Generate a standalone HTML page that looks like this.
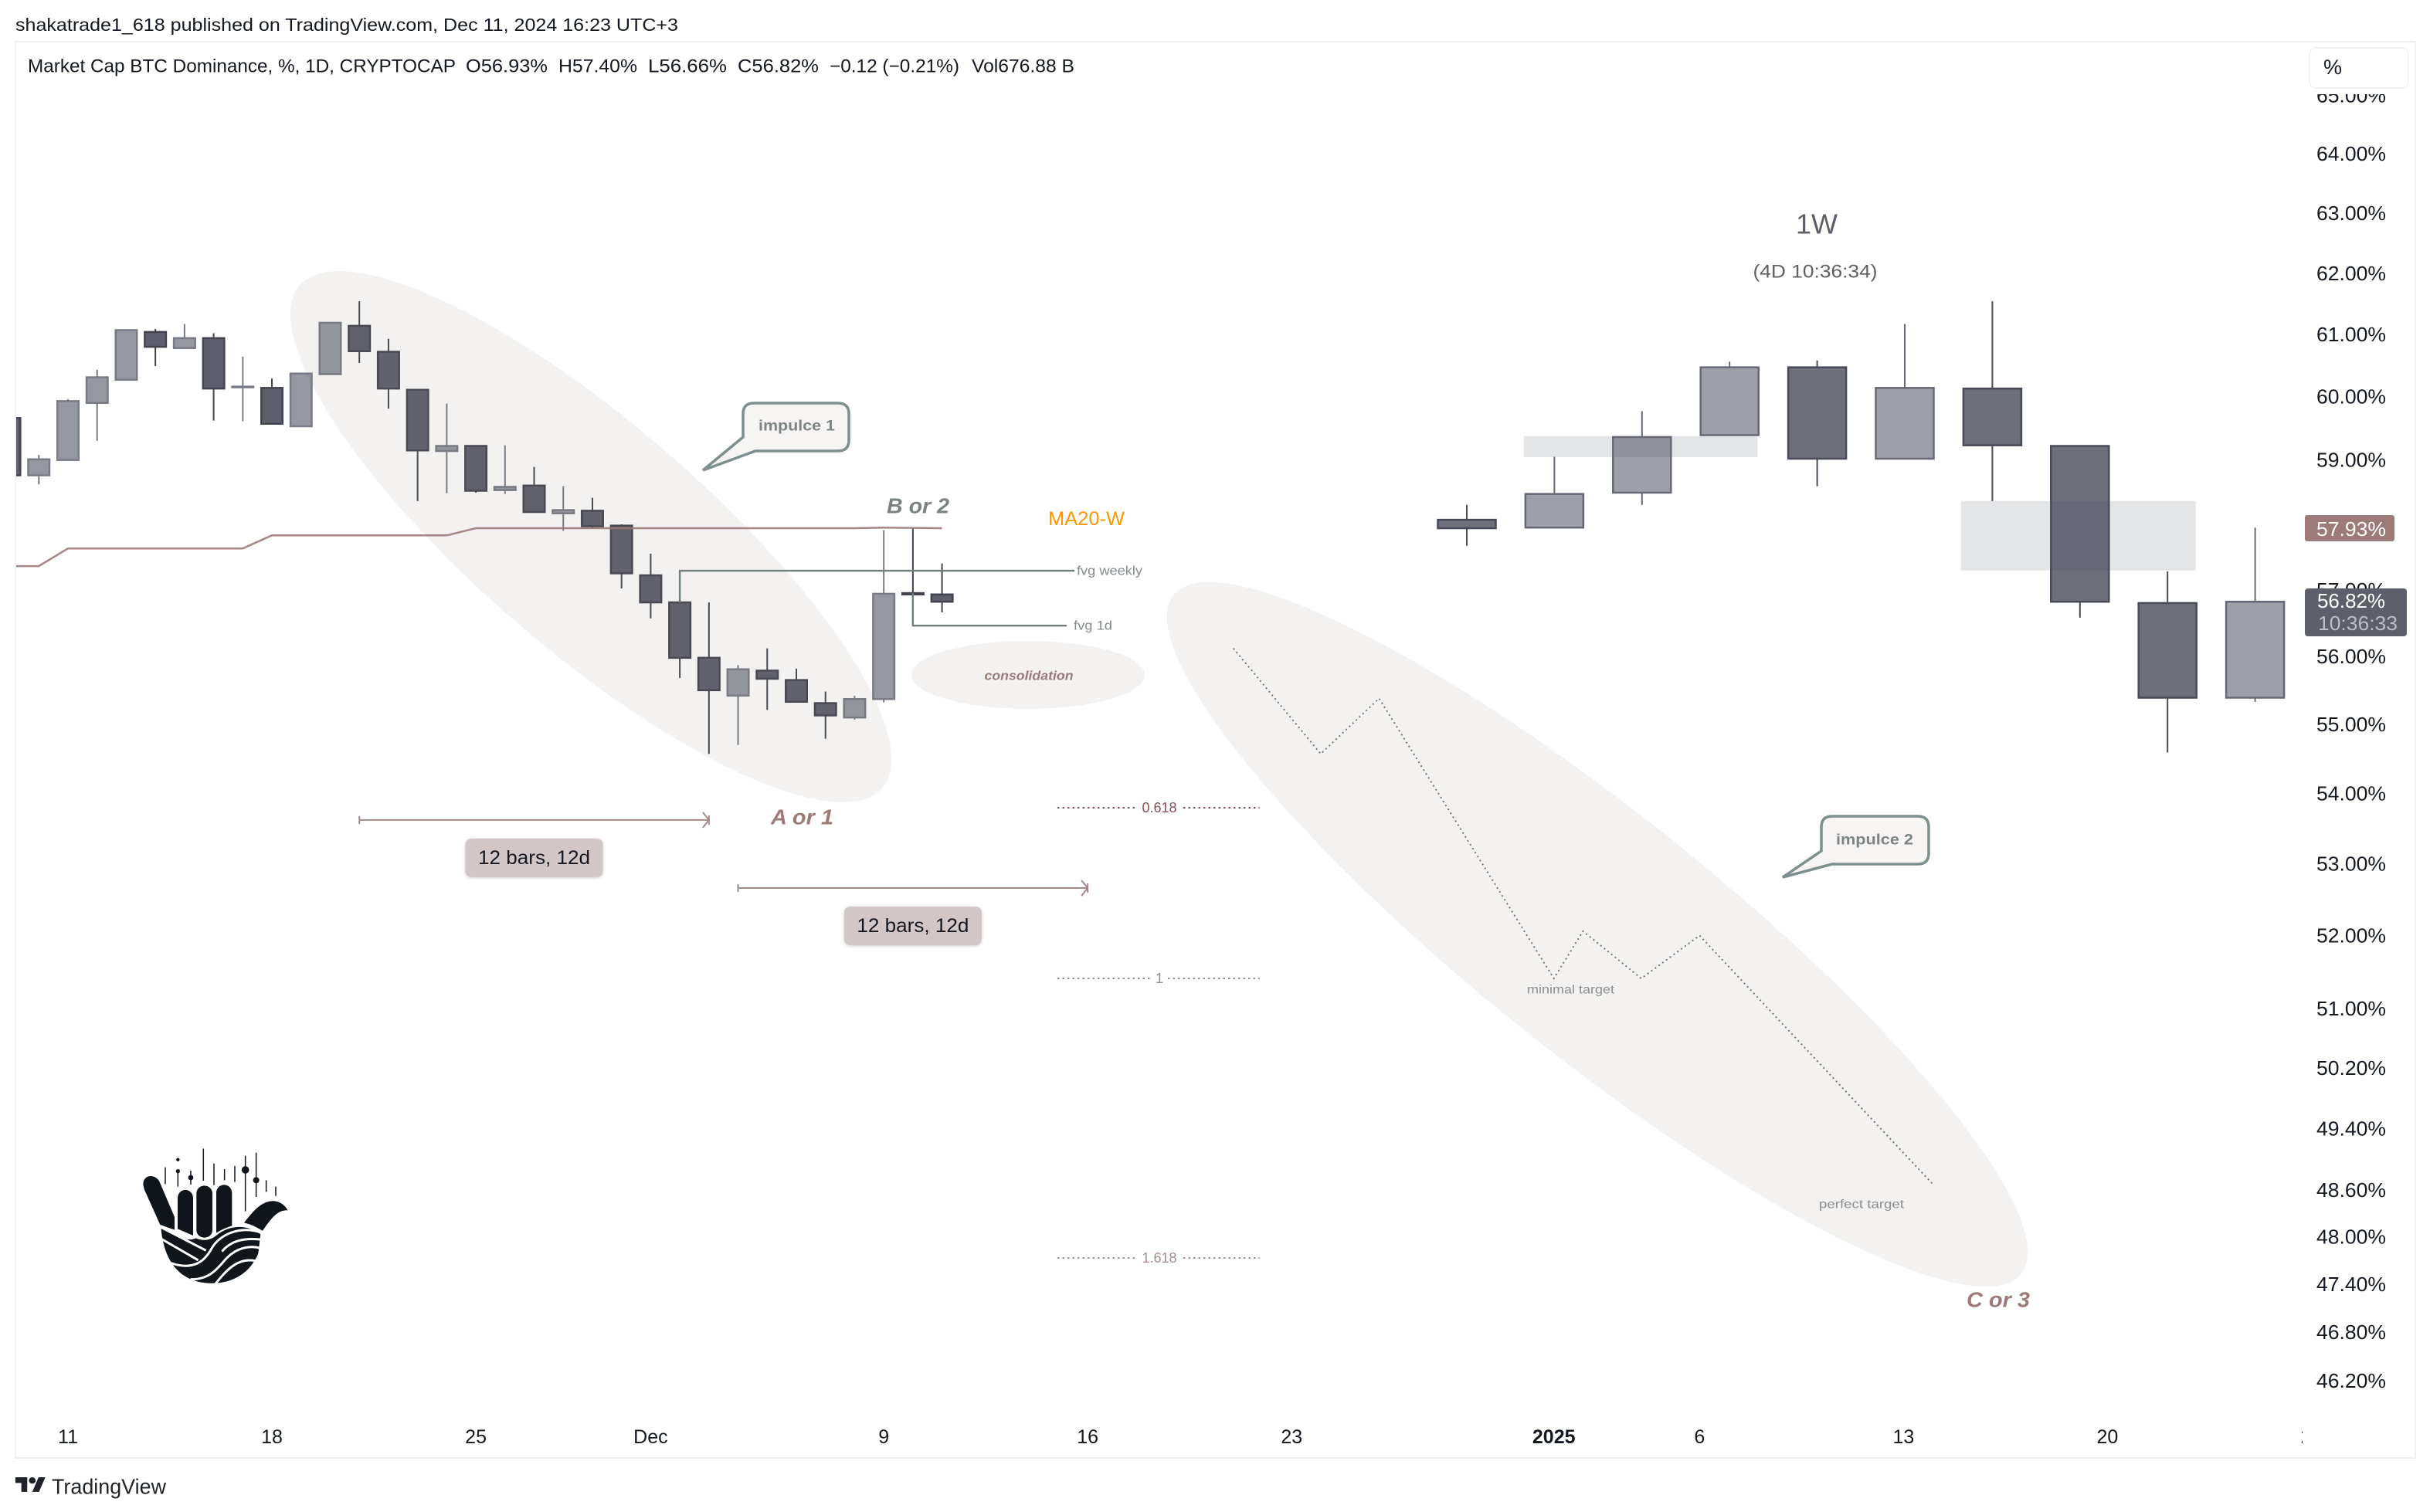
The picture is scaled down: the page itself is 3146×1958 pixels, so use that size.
<!DOCTYPE html>
<html lang="en">
<head>
<meta charset="utf-8">
<title>Market Cap BTC Dominance chart</title>
<style>
html,body{margin:0;padding:0;background:#fff;}
svg{display:block;font-family:"Liberation Sans",Arial,sans-serif;}
text{dominant-baseline:central;}
</style>
</head>
<body>
<svg id="chart" xmlns="http://www.w3.org/2000/svg" width="3146" height="1958" viewBox="0 0 3146 1958">
<defs>
<clipPath id="pane-clip"><rect x="21" y="55" width="2963" height="1832"/></clipPath>
<clipPath id="xaxis-clip"><rect x="21" y="1830" width="2960" height="57"/></clipPath>
</defs>
<rect x="0" y="0" width="3146" height="1958" fill="#ffffff"/>
<text x="20" y="32" font-size="23" fill="#131722" textLength="858" lengthAdjust="spacingAndGlyphs">shakatrade1_618 published on TradingView.com, Dec 11, 2024 16:23 UTC+3</text>
<rect x="20" y="54" width="3107" height="1834" fill="none" stroke="#eef0f6" stroke-width="2"/>

<g id="zones" clip-path="url(#pane-clip)"></g>
<g id="daily" clip-path="url(#pane-clip)"></g>
<g id="ma" clip-path="url(#pane-clip)"></g>
<g id="weekly"></g>

<ellipse cx="765" cy="695" rx="498" ry="147" transform="rotate(40.8 765 695)" fill="rgb(135,125,115)" fill-opacity="0.1"/>
<ellipse cx="2068" cy="1210" rx="703" ry="156" transform="rotate(38.7 2068 1210)" fill="rgb(135,125,115)" fill-opacity="0.1"/>
<ellipse cx="1331" cy="874" rx="151" ry="44" fill="#f3f2f1"/>
<text x="1332" y="875" font-size="17" font-weight="700" font-style="italic" fill="#9b7a78" text-anchor="middle" textLength="115" lengthAdjust="spacingAndGlyphs">consolidation</text>

<g id="overlay"></g>

<path d="M976 522H1085Q1099 522 1099 536V570Q1099 584 1085 584H978L910 609L962 566V536Q962 522 976 522Z" fill="#f6f5f3" stroke="#7f8f90" stroke-width="3.5"/>
<text x="982" y="552" font-size="19" font-weight="700" fill="#7c8484" textLength="99" lengthAdjust="spacingAndGlyphs">impulce 1</text>
<path d="M2372 1057H2483Q2497 1057 2497 1071V1105Q2497 1119 2483 1119H2372L2308 1136L2358 1102V1071Q2358 1057 2372 1057Z" fill="#f6f5f3" stroke="#7f8f90" stroke-width="3.5"/>
<text x="2377" y="1088" font-size="19" font-weight="700" fill="#7c8484" textLength="100" lengthAdjust="spacingAndGlyphs">impulce 2</text>

<text x="1148" y="655" font-size="28" font-weight="700" font-style="italic" fill="#79837f" textLength="81" lengthAdjust="spacingAndGlyphs">B or 2</text>
<text x="998" y="1058" font-size="28" font-weight="700" font-style="italic" fill="#9b7a78" textLength="81" lengthAdjust="spacingAndGlyphs">A or 1</text>
<text x="2546" y="1683" font-size="28" font-weight="700" font-style="italic" fill="#9b7a78" textLength="82" lengthAdjust="spacingAndGlyphs">C or 3</text>
<text x="1357" y="672" font-size="25" fill="#ff9800" textLength="99" lengthAdjust="spacingAndGlyphs">MA20-W</text>
<text x="1394" y="739" font-size="17" fill="#858a8c" textLength="85" lengthAdjust="spacingAndGlyphs">fvg weekly</text>
<text x="1390" y="810" font-size="17" fill="#858a8c" textLength="50" lengthAdjust="spacingAndGlyphs">fvg 1d</text>
<text x="1977" y="1282" font-size="16" fill="#8b8e8d" textLength="113" lengthAdjust="spacingAndGlyphs">minimal target</text>
<text x="2355" y="1560" font-size="16" fill="#8b8e8d" textLength="110" lengthAdjust="spacingAndGlyphs">perfect target</text>
<text x="2352" y="290" font-size="36" fill="#5d606b" text-anchor="middle" textLength="54" lengthAdjust="spacingAndGlyphs">1W</text>
<text x="2350" y="352" font-size="24" fill="#5d606b" text-anchor="middle" textLength="161" lengthAdjust="spacingAndGlyphs">(4D 10:36:34)</text>

<g font-size="24" fill="#131722">
<text x="36" y="86" textLength="554" lengthAdjust="spacingAndGlyphs">Market Cap BTC Dominance, %, 1D, CRYPTOCAP</text>
<text x="603" y="86" textLength="106" lengthAdjust="spacingAndGlyphs">O56.93%</text>
<text x="723" y="86" textLength="102" lengthAdjust="spacingAndGlyphs">H57.40%</text>
<text x="839" y="86" textLength="102" lengthAdjust="spacingAndGlyphs">L56.66%</text>
<text x="955" y="86" textLength="105" lengthAdjust="spacingAndGlyphs">C56.82%</text>
<text x="1074" y="86" textLength="168" lengthAdjust="spacingAndGlyphs">−0.12 (−0.21%)</text>
<text x="1258" y="86" textLength="133" lengthAdjust="spacingAndGlyphs">Vol676.88 B</text>
</g>

<g id="yaxis"></g>
<g id="xaxis" clip-path="url(#xaxis-clip)"></g>

<rect x="2985" y="56" width="140" height="66" fill="#ffffff"/>
<rect x="2990" y="62" width="128" height="52" rx="8" fill="#ffffff" stroke="#eceef4" stroke-width="1.5"/>
<text x="3020" y="87" font-size="27" fill="#131722" text-anchor="middle">%</text>

<rect x="2984" y="667" width="116" height="34" rx="3" fill="#9b7a78"/>
<text x="2999" y="685" font-size="26" fill="#ffffff" textLength="90" lengthAdjust="spacingAndGlyphs">57.93%</text>
<rect x="2984" y="762" width="132" height="62" rx="4" fill="#5d606b"/>
<text x="3000" y="778" font-size="26" fill="#ffffff" textLength="88" lengthAdjust="spacingAndGlyphs">56.82%</text>
<text x="3001" y="807" font-size="26" fill="#bcbec3" textLength="103" lengthAdjust="spacingAndGlyphs">10:36:33</text>

<g transform="translate(150 1460) scale(0.3333)">
<g stroke="#10151c" stroke-width="4.5" fill="none">
<path d="M192 155V220M241 175V230M291 168V222M340 82V207M381 140V224M422 162V205M462 150V212M503 110V326M545 98V270M584 205V250M621 230V266"/>
</g>
<g fill="#10151c">
<circle cx="241" cy="125" r="6.5"/><circle cx="241" cy="170" r="8"/><circle cx="291" cy="195" r="10"/><circle cx="503" cy="165" r="14.5"/><circle cx="545" cy="205" r="12"/>
</g>
<g fill="#10151c">
<path d="M106 222C106 180 155 180 170 212L228 348V398L172 378L110 240Z"/>
<path d="M240 276C240 232 300 232 300 276V420L240 394Z"/>
<path d="M313 258C313 216 375 216 375 258V398C375 438 313 438 313 398Z"/>
<path d="M390 256C390 212 451 212 451 256V382C425 390 405 400 390 410Z"/>
<path d="M498 370C530 330 560 290 605 286C635 285 655 300 668 322C630 320 605 350 570 402C545 385 520 375 498 370Z"/>
<path d="M175 388L240 420C262 432 285 442 310 430C335 442 365 440 390 420C440 378 510 375 562 415L553 490C515 580 430 615 340 603C240 590 185 510 175 388Z"/>
</g>
<g fill="none" stroke="#ffffff" stroke-width="9">
<path d="M168 384L350 478"/>
<path d="M175 432L320 516"/>
<path d="M205 524C300 560 345 520 372 470C400 420 480 375 575 412"/>
<path d="M290 590C370 592 400 540 432 506C470 468 520 456 565 470"/>
<path d="M385 610C425 560 470 505 540 518"/>
<path d="M412 482C450 438 500 428 570 436"/>
</g>
</g>

<g transform="translate(20 1913) scale(1.09 1.05)" fill="#1f2329">
<path d="M14 18H7V7H0V0H14ZM28 18H20L27.500 0H35.500Z"/>
<circle cx="20" cy="4" r="4"/>
</g>
<text x="67" y="1925" font-size="28" fill="#1f2329" textLength="148" lengthAdjust="spacingAndGlyphs">TradingView</text>
</svg>

<script>
// ---- price axis ticks ----
const yTickValues = [65,64,63,62,61,60,59,58,57,56,55,54,53,52,51,50.2,49.4,48.6,48,47.4,46.8,46.2];
const yTickLabels = ["65.00%","64.00%","63.00%","62.00%","61.00%","60.00%","59.00%","58.00%","57.00%","56.00%","55.00%","54.00%","53.00%","52.00%","51.00%","50.20%","49.40%","48.60%","48.00%","47.40%","46.80%","46.20%"];
// ---- time axis ticks (days since Nov 11) ----
const xTickDays = [0,7,14,20,28,35,42,51,56,63,70,77];
const xTickLabels = ["11","18","25","Dec","9","16","23","2025","6","13","20","27"];
// ---- daily candles ----
const dailyDays = [-2,-1,0,1,2,3,4,5,6,7,8,9,10,11,12,13,14,15,16,17,18,19,20,21,22,23,24,25,26,27,28,29,30];
const dailyOpen = [59.66,58.76,59.00,59.90,60.27,61.04,60.78,60.94,60.15,60.14,59.53,60.36,61.14,60.72,60.11,59.14,59.22,58.53,58.60,58.17,58.21,57.98,57.22,56.81,55.98,55.42,55.79,55.65,55.31,55.10,55.37,56.95,56.93];
const dailyHigh = [59.66,59.08,59.96,60.43,61.07,61.09,61.17,61.02,60.64,60.29,60.37,61.19,61.54,60.93,60.11,59.89,59.22,59.23,58.89,58.59,58.41,58.00,57.55,56.81,56.81,55.87,56.12,55.82,55.48,55.42,57.91,57.95,57.40];
const dailyLow = [58.76,58.62,59.00,59.30,60.27,60.49,60.78,59.62,59.61,59.57,59.53,60.36,60.54,59.81,58.36,58.48,58.49,58.47,58.19,57.90,57.94,57.02,56.57,55.68,54.57,54.70,55.21,55.33,54.79,55.07,55.32,56.46,56.66];
const dailyClose = [58.76,59.01,59.93,60.31,61.07,60.80,60.94,60.13,60.16,59.57,60.37,61.19,60.73,60.13,59.15,59.22,58.52,58.58,58.19,58.22,57.97,57.25,56.81,55.98,55.50,55.81,55.67,55.33,55.13,55.37,56.94,56.93,56.82];
// ---- weekly candles drawn on the right ----
const weeklyIndex = [0,1,2,3,4,5,6,7,8,9];
const weeklyOpen = [58.07,57.95,58.49,59.39,60.47,59.02,60.13,59.22,56.80,55.39];
const weeklyHigh = [58.30,59.05,59.77,60.56,60.58,61.17,61.54,59.23,57.28,57.95];
const weeklyLow = [57.67,57.95,58.30,59.39,58.59,59.02,58.36,56.58,54.59,55.33];
const weeklyClose = [57.94,58.47,59.36,60.47,59.02,60.14,59.23,56.82,55.39,56.82];
// ---- weekly gap zones ----
const zoneStartWeek = [0.65,5.64];
const zoneEndWeek = [3.32,8.32];
const zoneTop = [59.375,58.36];
const zoneBottom = [59.045,57.293];
// ---- MA20 weekly line ----
const maDays = [-3,-1,0,6,7,13,14,27,28,30];
const maValues = [57.36,57.36,57.63,57.63,57.83,57.83,57.94,57.94,57.95,57.94];
// ---- projected path ----
const projectionDays = [40,43,45,51,52,54,56,64];
const projectionValues = [56.12,54.57,55.38,51.41,52.06,51.41,52.00,48.68];
// ---- fibonacci levels ----
const fibLabels = ["0.618","1","1.618"];
const fibValues = [53.79,51.41,47.73];
const fibColors = ["#8a4f55","#8e8e8e","#a98c8c"];
const fibStartDay = 33.96;
const fibEndDay = 40.9;
// ---- bar-range measurements ----
const rangeStartDay = [10,23];
const rangeEndDay = [22,35];
const rangeValue = [53.62,52.66];
const rangeLabels = ["12 bars, 12d","12 bars, 12d"];
// ---- fvg levels ----
const fvgDay = [21,29];
const fvgEndDay = [34.55,34.28];
const fvgLevel = [57.29,56.46];
const fvgAnchor = [56.81,56.95];
const fvgNames = ["fvg-weekly","fvg-1d"];

// axis functions
function yScale(price){ return 199 + 4876 * Math.log(64 / price); }
function xScale(day){ return 88 + 37.72 * day; }
function weekScale(week){ return 1899 + 113.4 * week; }

const NS = 'http://www.w3.org/2000/svg';
function mk(parent, tag, attrs, txt){
  const el = document.createElementNS(NS, tag);
  for (const k in attrs) el.setAttribute(k, attrs[k]);
  if (txt !== undefined) el.textContent = txt;
  parent.appendChild(el);
  return el;
}
function candle(parent, cx, width, o, h, l, c, bw, wickW, upFill, upLine, downFill, downLine){
  const up = c >= o;
  const line = up ? upLine : downLine;
  const fill = up ? upFill : downFill;
  const top = yScale(Math.max(o, c));
  const bot = yScale(Math.min(o, c));
  const bh = Math.max(bot - top, 0.5);
  mk(parent, 'line', {x1:cx, x2:cx, y1:yScale(h), y2:top, stroke:line, 'stroke-width':wickW});
  mk(parent, 'line', {x1:cx, x2:cx, y1:top + bh, y2:yScale(l), stroke:line, 'stroke-width':wickW});
  mk(parent, 'rect', {x:cx - width/2, y:top, width:width, height:bh, fill:fill, stroke:line, 'stroke-width':bw});
}

const dailyG = document.getElementById('daily');
dailyDays.forEach(function(d, i){
  const g = mk(dailyG, 'g', {});
  
  
  candle(g, xScale(d), 27.5, dailyOpen[i], dailyHigh[i], dailyLow[i], dailyClose[i], 2.5, 2, '#9598a1', '#787b86', '#5d5f6c', '#42434f');
});

const zonesG = document.getElementById('zones');
zoneStartWeek.forEach(function(s, i){
  const r = mk(zonesG, 'rect', {x:weekScale(s), y:yScale(zoneTop[i]), width:weekScale(zoneEndWeek[i]) - weekScale(s), height:yScale(zoneBottom[i]) - yScale(zoneTop[i]), fill:'#e4e5e7'});
  
  
});

const maG = document.getElementById('ma');
const maPath = mk(maG, 'polyline', {points: maDays.map(function(d, i){ return xScale(d) + ',' + yScale(maValues[i]); }).join(' '), fill:'none', stroke:'#9b7a78', 'stroke-width':2.5, 'stroke-opacity':0.9});



const weeklyG = document.getElementById('weekly');
weeklyIndex.forEach(function(w, i){
  const g = mk(weeklyG, 'g', {});
  
  
  candle(g, weekScale(w), 75, weeklyOpen[i], weeklyHigh[i], weeklyLow[i], weeklyClose[i], 2.5, 2, 'rgba(40,44,64,0.45)', '#666875', 'rgba(60,63,79,0.75)', '#484a58');
});

const overlay = document.getElementById('overlay');
const proj = mk(overlay, 'polyline', {points: projectionDays.map(function(d, i){ return xScale(d) + ',' + yScale(projectionValues[i]); }).join(' '), fill:'none', stroke:'#777777', 'stroke-width':2, 'stroke-dasharray':'2 4'});



fibLabels.forEach(function(lab, i){
  const y = Math.round(yScale(fibValues[i]));
  const x0 = xScale(fibStartDay), x1 = xScale(fibEndDay), half = lab.length * 5 + 6;
  const cx = 1501;
  const l1 = mk(overlay, 'line', {x1:x0, x2:cx - half, y1:y, y2:y, stroke:fibColors[i], 'stroke-width':2, 'stroke-dasharray':'2.500 4'});
  
  
  const l2 = mk(overlay, 'line', {x1:cx + half, x2:x1, y1:y, y2:y, stroke:fibColors[i], 'stroke-width':2, 'stroke-dasharray':'2.500 4'});
  
  
  const t = mk(overlay, 'text', {x:cx, y:y, 'font-size':18, fill:fibColors[i], 'text-anchor':'middle'}, lab);
  
  
});

rangeStartDay.forEach(function(s, i){
  const x0 = xScale(s), x1 = xScale(rangeEndDay[i]), y = yScale(rangeValue[i]);
  const g = mk(overlay, 'g', {fill:'none', stroke:'#a58888', 'stroke-width':2});
  
  
  mk(g, 'path', {d:'M' + x0 + ' ' + (y - 5) + 'V' + (y + 5) + 'M' + x0 + ' ' + y + 'H' + x1 + 'M' + (x1 - 8) + ' ' + (y - 10) + 'L' + x1 + ' ' + y + 'L' + (x1 - 8) + ' ' + (y + 10) + 'M' + x1 + ' ' + (y - 6) + 'V' + (y + 6)});
  const cx = (x0 + x1) / 2;
  const box = mk(overlay, 'rect', {x:cx - 89, y:y + 24, width:178, height:50, rx:8, fill:'#d2c6c6', style:'filter:drop-shadow(0 1px 2px rgba(120,100,100,.35))'});
  
  
  const t = mk(overlay, 'text', {x:cx, y:y + 49, 'font-size':25, fill:'#131722', 'text-anchor':'middle', textLength:145, lengthAdjust:'spacingAndGlyphs'}, rangeLabels[i]);
  
  
});

fvgDay.forEach(function(d, i){
  const x = xScale(d), y0 = yScale(fvgAnchor[i]), y1 = yScale(fvgLevel[i]);
  const p = mk(overlay, 'path', {d:'M' + x + ' ' + y0 + 'V' + y1 + 'H' + xScale(fvgEndDay[i]), fill:'none', stroke:'#707e7a', 'stroke-width':2.4});
  
  
});

const yG = document.getElementById('yaxis');
yTickValues.forEach(function(v, i){
  const t = mk(yG, 'text', {x:2999, y:yScale(v), 'font-size':26, fill:'#131722', textLength:90, lengthAdjust:'spacingAndGlyphs'}, yTickLabels[i]);
  
  
});

const xG = document.getElementById('xaxis');
xTickDays.forEach(function(d, i){
  const bold = xTickLabels[i] === '2025';
  const t = mk(xG, 'text', {x:xScale(d), y:1861, 'font-size':25, fill:'#131722', 'text-anchor':'middle', 'font-weight':bold ? 700 : 400}, xTickLabels[i]);
  
  
});
</script>
</body>
</html>
